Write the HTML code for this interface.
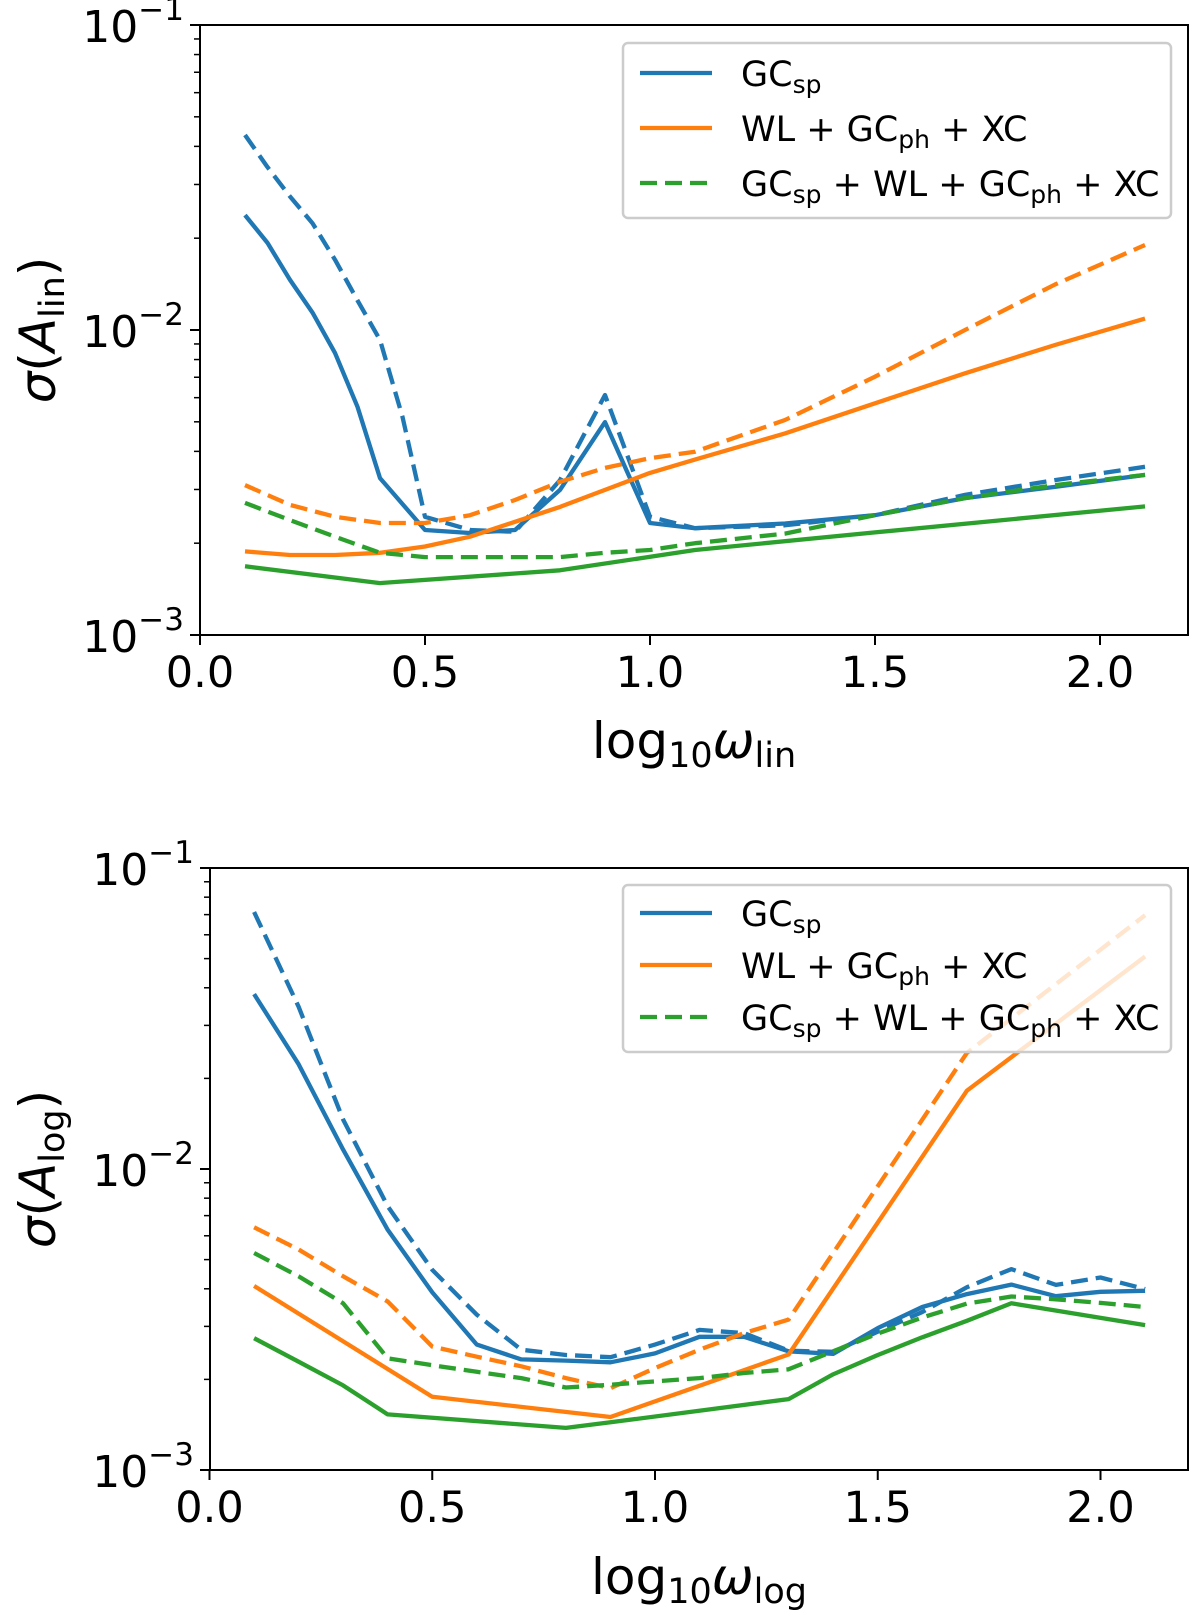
<!DOCTYPE html>
<html><head><meta charset="utf-8"><style>
html,body{margin:0;padding:0;background:#fff;}
svg{display:block;font-family:"DejaVu Sans","Liberation Sans",sans-serif;}
</style></head><body>
<svg id="fig" width="1200" height="1610" viewBox="0 0 1200 1610" xmlns="http://www.w3.org/2000/svg"></svg>
<script>
// ---- data (sigma values, in units of 1e-3) ----
const SCALE = 1e-3;
// top panel (A_lin)
const topBlueSolidX = [0.1,0.15,0.2,0.25,0.3,0.35,0.4,0.5,0.6,0.7,0.8,0.9,1.0,1.1,1.3,1.5,1.7,1.9,2.1];
const topBlueSolidY = [23.8,19.3,14.6,11.4,8.41,5.60,3.27,2.21,2.16,2.21,2.99,4.99,2.33,2.24,2.32,2.47,2.81,3.06,3.35];
const topBlueDashX = [0.1,0.15,0.2,0.25,0.3,0.35,0.4,0.45,0.5,0.6,0.7,0.8,0.9,1.0,1.1,1.3,1.5,1.7,1.9,2.1];
const topBlueDashY = [43.6,34.2,27.4,22.4,17.0,12.5,9.27,5.19,2.44,2.21,2.18,3.22,6.12,2.44,2.24,2.29,2.47,2.88,3.22,3.56];
const topOrangeX = [0.1,0.2,0.3,0.4,0.5,0.6,0.7,0.8,0.9,1.0,1.1,1.3,1.5,1.7,1.9,2.1];
const topOrangeDashY = [3.10,2.67,2.44,2.33,2.33,2.47,2.77,3.18,3.53,3.80,3.99,5.07,7.03,10.0,14.1,19.0];
const topOrangeSolidY = [1.88,1.83,1.83,1.86,1.95,2.10,2.35,2.63,2.99,3.40,3.76,4.58,5.75,7.21,8.93,10.9];
const topGreenDashX = [0.1,0.2,0.3,0.4,0.5,0.6,0.7,0.8,0.9,1.0,1.1,1.3,1.5,1.7,1.9,2.1];
const topGreenDashY = [2.71,2.38,2.10,1.86,1.80,1.80,1.80,1.80,1.86,1.90,2.00,2.15,2.47,2.81,3.10,3.35];
const topGreenSolidX = [0.1,0.4,0.8,1.1,1.5,2.1];
const topGreenSolidY = [1.68,1.48,1.63,1.90,2.17,2.64];
// bottom panel (A_log)
const botX = [0.1,0.2,0.3,0.4,0.5,0.6,0.7,0.8,0.9,1.0,1.1,1.2,1.3,1.4,1.5,1.6,1.7,1.8,1.9,2.0,2.1];
const botBlueSolidY = [38.1,22.3,11.6,6.28,3.89,2.61,2.33,2.31,2.28,2.44,2.77,2.77,2.48,2.43,2.96,3.48,3.84,4.13,3.78,3.91,3.94];
const botBlueDashY = [71.4,34.6,14.6,7.52,4.62,3.28,2.51,2.41,2.37,2.61,2.92,2.85,2.49,2.47,2.88,3.35,4.05,4.65,4.12,4.36,3.99];
const botGreenDashY = [5.26,4.40,3.58,2.35,2.23,2.12,2.02,1.88,1.92,1.97,2.02,2.10,2.16,2.48,2.84,3.21,3.57,3.77,3.69,3.59,3.48];
const botOrangeDashX = [0.1,0.2,0.3,0.4,0.5,0.6,0.7,0.8,0.9,1.0,1.1,1.2,1.3,1.7,2.1];
const botOrangeDashY = [6.40,5.40,4.40,3.63,2.57,2.38,2.21,2.02,1.87,2.18,2.51,2.85,3.16,24.3,69.7];
const botOrangeSolidX = [0.1,0.5,0.9,1.3,1.7,2.1];
const botOrangeSolidY = [4.09,1.75,1.50,2.42,18.2,50.8];
const botGreenSolidX = [0.1,0.2,0.3,0.4,0.8,0.9,1.3,1.4,1.5,1.6,1.7,1.8,2.1];
const botGreenSolidY = [2.74,2.29,1.91,1.53,1.38,1.44,1.72,2.08,2.41,2.76,3.13,3.58,3.03];
const xTicks = [0.0,0.5,1.0,1.5,2.0];
const xTickLabels = ["0.0","0.5","1.0","1.5","2.0"];
const yDecades = [-3,-2,-1];

const NS = "http://www.w3.org/2000/svg";
const svg = document.getElementById('fig');
const BLUE="#1f77b4", ORANGE="#ff7f0e", GREEN="#2ca02c";
function mk(tag, attrs, parent){
  const e=document.createElementNS(NS,tag);
  for(const k in attrs) e.setAttribute(k,attrs[k]);
  (parent||svg).appendChild(e); return e;
}

function panel(cfg){
  const g = mk('g',{});
  
  
  const xs = v => cfg.x0 + v*cfg.unit;
  const ys = v => cfg.bottom - (Math.log10(v)+3)/2*(cfg.bottom-cfg.top);
  const clip = mk('clipPath',{id:cfg.name+'-clip'},g);
  mk('rect',{x:cfg.left,y:cfg.top,width:cfg.right-cfg.left,height:cfg.bottom-cfg.top},clip);
  const lines = mk('g',{'clip-path':'url(#'+cfg.name+'-clip)'},g);
  cfg.series.forEach(s=>{
    const pts = s.x.map((xv,i)=>xs(xv).toFixed(1)+','+ys(s.y[i]*SCALE).toFixed(1)).join(' ');
    const p = mk('polyline',{points:pts,fill:'none',stroke:s.color,'stroke-width':4.3,'stroke-linejoin':'round'},lines);
    if(s.dash) p.setAttribute('stroke-dasharray','17,8');
    
    
  });
  // legend
  const lg = mk('g',{},g);
  
  
  mk('rect',{x:623,y:cfg.legTop,width:548,height:cfg.legH,rx:5,fill:'rgba(255,255,255,0.8)',stroke:'#cccccc','stroke-width':2.5},lg);
  const entries=[
    {c:BLUE,d:false,parts:[['GC',0],['sp',1]],n:'legend-entry-gcsp'},
    {c:ORANGE,d:false,parts:[['WL + GC',0],['ph',1],[' + XC',0]],n:'legend-entry-wl-gcph-xc'},
    {c:GREEN,d:true,parts:[['GC',0],['sp',1],[' + WL + GC',0],['ph',1],[' + XC',0]],n:'legend-entry-combined'}
  ];
  entries.forEach((e,i)=>{
    const cy = cfg.legRow0 + i*cfg.legSp;
    const eg = mk('g',{},lg);
    
    
    const l = mk('line',{x1:640,x2:712,y1:cy,y2:cy,stroke:e.c,'stroke-width':4.3},eg);
    if(e.d) l.setAttribute('stroke-dasharray','17,8');
    const t = mk('text',{x:741,y:cy+13,'font-size':35,fill:'#000'},eg);
    e.parts.forEach(p=>{
      const ts = mk('tspan',{},t);
      ts.textContent=p[0];
      if(p[1]){ ts.setAttribute('font-size','25'); ts.setAttribute('dy','7'); }
      else if(t.childNodes.length>1){ ts.setAttribute('dy','-7'); }
    });
  });
  // spines
  mk('rect',{x:cfg.left,y:cfg.top,width:cfg.right-cfg.left,height:cfg.bottom-cfg.top,fill:'none',stroke:'#000','stroke-width':2},g);
  // x ticks
  xTicks.forEach((v,i)=>{
    const x=xs(v);
    mk('line',{x1:x,x2:x,y1:cfg.bottom,y2:cfg.bottom+10,stroke:'#000','stroke-width':2},g);
    const t=mk('text',{x:x,y:cfg.bottom+52,'font-size':43,'text-anchor':'middle'},g);
    t.textContent=xTickLabels[i];
    
    
  });
  // y ticks
  yDecades.forEach(d=>{
    const y=ys(Math.pow(10,d));
    mk('line',{x1:cfg.left-10,x2:cfg.left,y1:y,y2:y,stroke:'#000','stroke-width':2},g);
    const t=mk('text',{x:cfg.left-16,y:y+17,'font-size':44,'text-anchor':'end'},g);
    const a=mk('tspan',{},t); a.textContent='10';
    const b=mk('tspan',{dy:-22,'font-size':31},t); b.textContent='\u2212'+(-d);
    
    
    if(d<-1){ for(let m=2;m<=9;m++){
      const yy=ys(m*Math.pow(10,d));
      mk('line',{x1:cfg.left-6,x2:cfg.left,y1:yy,y2:yy,stroke:'#000','stroke-width':1.5},g);
    }}
  });
  // axis labels
  const xl=mk('text',{x:(cfg.left+cfg.right)/2,y:cfg.xlabY,'font-size':50,'text-anchor':'middle'},g);
  
  
  let s1=mk('tspan',{},xl); s1.textContent='log';
  let s2=mk('tspan',{dy:9,'font-size':35},xl); s2.textContent='10';
  let s3=mk('tspan',{dy:-9,'font-style':'italic'},xl); s3.textContent='\u03c9';
  let s4=mk('tspan',{dy:9,'font-size':35},xl); s4.textContent=cfg.sub;
  const yc=(cfg.top+cfg.bottom)/2;
  const yl=mk('text',{x:0,y:0,'font-size':50,'text-anchor':'middle',transform:'translate(55,'+yc+') rotate(-90)'},g);
  
  
  let u1=mk('tspan',{'font-style':'italic'},yl); u1.textContent='\u03c3';
  let u2=mk('tspan',{},yl); u2.textContent='(';
  let u3=mk('tspan',{'font-style':'italic'},yl); u3.textContent='A';
  let u4=mk('tspan',{dy:9,'font-size':35},yl); u4.textContent=cfg.sub;
  let u5=mk('tspan',{dy:-9},yl); u5.textContent=')';
}

panel({name:'top-panel',left:200,right:1188,top:25,bottom:635,x0:200,unit:450,
  legTop:43,legH:175,legRow0:73,legSp:55,xlabY:758,sub:'lin',
  series:[
    {name:'top-gcsp-solid',x:topBlueSolidX,y:topBlueSolidY,color:BLUE,dash:false},
    {name:'top-gcsp-dashed',x:topBlueDashX,y:topBlueDashY,color:BLUE,dash:true},
    {name:'top-wl-solid',x:topOrangeX,y:topOrangeSolidY,color:ORANGE,dash:false},
    {name:'top-wl-dashed',x:topOrangeX,y:topOrangeDashY,color:ORANGE,dash:true},
    {name:'top-combined-solid',x:topGreenSolidX,y:topGreenSolidY,color:GREEN,dash:false},
    {name:'top-combined-dashed',x:topGreenDashX,y:topGreenDashY,color:GREEN,dash:true}
  ]});
panel({name:'bottom-panel',left:210,right:1188,top:868,bottom:1470,x0:209.5,unit:445.5,
  legTop:885,legH:167,legRow0:913,legSp:52,xlabY:1594,sub:'log',
  series:[
    {name:'bottom-gcsp-solid',x:botX,y:botBlueSolidY,color:BLUE,dash:false},
    {name:'bottom-gcsp-dashed',x:botX,y:botBlueDashY,color:BLUE,dash:true},
    {name:'bottom-wl-solid',x:botOrangeSolidX,y:botOrangeSolidY,color:ORANGE,dash:false},
    {name:'bottom-wl-dashed',x:botOrangeDashX,y:botOrangeDashY,color:ORANGE,dash:true},
    {name:'bottom-combined-solid',x:botGreenSolidX,y:botGreenSolidY,color:GREEN,dash:false},
    {name:'bottom-combined-dashed',x:botX,y:botGreenDashY,color:GREEN,dash:true}
  ]});
</script>
</body></html>
